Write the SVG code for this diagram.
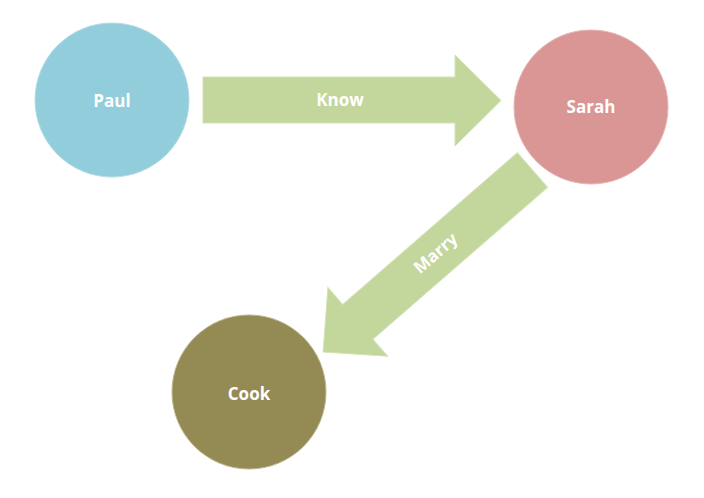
<svg xmlns="http://www.w3.org/2000/svg" width="704" height="498" viewBox="0 0 704 498">
<style>
.lbl{font-family:"Open Sans","Noto Sans",sans-serif;font-weight:bold;font-size:17px;fill:#ffffff;text-anchor:middle}
.arrow{fill:#C3D69B;stroke:#D3E2B5;stroke-width:1}
</style>
<rect width="704" height="498" fill="#ffffff"/>
<g id="connectors">
<g id="know">
<polygon class="arrow" points="203,77 455,77 455,55 501,100.5 455,146 455,123 203,123"/>
<text class="lbl" x="340" y="106">Know</text>
</g>
<g id="marry">
<polygon class="arrow" transform="translate(532.5,170) rotate(139)" points="0,-23 231.5,-23 231.5,-45.5 277.5,0 231.5,45.5 231.5,23 0,23"/>
<text class="lbl" transform="translate(435.5,253) rotate(-41)" x="0" y="6">Marry</text>
</g>
</g>
<g id="paul">
<circle cx="112" cy="100" r="77" fill="#92CDDC" stroke="#B5DCE6" stroke-width="1"/>
<text class="lbl" x="112" y="107">Paul</text>
</g>
<g id="sarah">
<circle cx="591" cy="107" r="77" fill="#D99694" stroke="#E6B5B4" stroke-width="1"/>
<text class="lbl" x="591" y="113">Sarah</text>
</g>
<g id="cook">
<circle cx="249" cy="392" r="77" fill="#948A54" stroke="#BDB68F" stroke-width="1"/>
<text class="lbl" x="249" y="400">Cook</text>
</g>
</svg>
